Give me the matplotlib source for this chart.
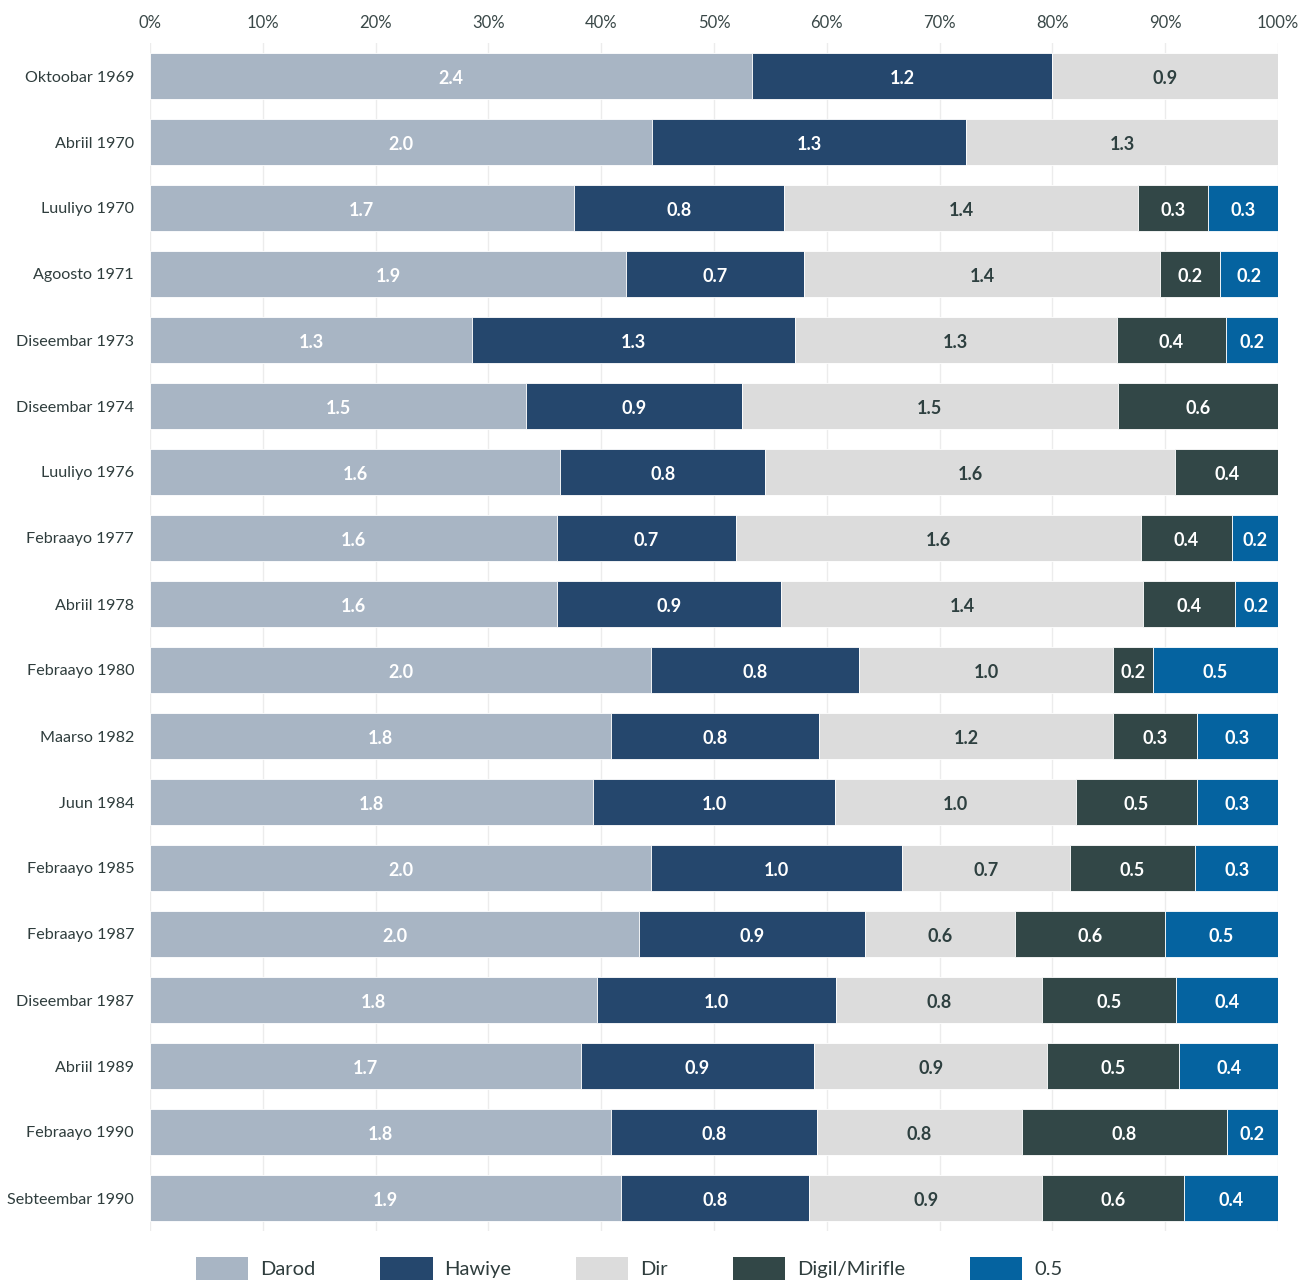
import numpy as np
import matplotlib
matplotlib.use("Agg")
from matplotlib import pyplot as plt
from matplotlib.patches import Patch

# survey dates, top to bottom
dates = ['Oktoobar 1969', 'Abriil 1970', 'Luuliyo 1970', 'Agoosto 1971', 'Diseembar 1973',
         'Diseembar 1974', 'Luuliyo 1976', 'Febraayo 1977', 'Abriil 1978', 'Febraayo 1980',
         'Maarso 1982', 'Juun 1984', 'Febraayo 1985', 'Febraayo 1987', 'Diseembar 1987',
         'Abriil 1989', 'Febraayo 1990', 'Sebteembar 1990']

series_names = ['Darod', 'Hawiye', 'Dir', 'Digil/Mirifle', '0.5']

darod  = [2.40, 2.03, 1.69, 1.90, 1.30, 1.50, 1.60, 1.60, 1.60, 2.00, 1.82, 1.80, 2.00, 1.99, 1.80, 1.70, 1.80, 1.90]
hawiye = [1.20, 1.27, 0.84, 0.71, 1.30, 0.86, 0.80, 0.70, 0.88, 0.83, 0.82, 0.98, 1.00, 0.92, 0.96, 0.92, 0.80, 0.76]
dir_   = [0.90, 1.26, 1.41, 1.42, 1.30, 1.50, 1.60, 1.59, 1.42, 1.01, 1.16, 0.98, 0.67, 0.61, 0.83, 0.92, 0.80, 0.94]
digil  = [0.00, 0.00, 0.28, 0.24, 0.44, 0.64, 0.40, 0.36, 0.36, 0.16, 0.33, 0.49, 0.50, 0.61, 0.54, 0.52, 0.80, 0.57]
other  = [0.00, 0.00, 0.28, 0.23, 0.21, 0.00, 0.00, 0.18, 0.17, 0.50, 0.32, 0.33, 0.33, 0.46, 0.41, 0.39, 0.20, 0.38]

colors = ['#a8b5c4', '#25476d', '#dcdcdc', '#324747', '#0563a0']
label_colors = ['white', 'white', '#2e4040', 'white', 'white']

data = np.array([darod, hawiye, dir_, digil, other])
share = data / data.sum(axis=0) * 100

fig = plt.figure(figsize=(13.16, 12.86), dpi=100)
ax = fig.add_axes([150/1316, 1 - 1231/1286, 1128/1316, (1231 - 43)/1286])

y = np.arange(len(dates))
left = np.zeros(len(dates))
for k in range(5):
    ax.barh(y, share[k], left=left, height=0.7, color=colors[k],
            edgecolor='white', linewidth=0.6, zorder=2)
    for i in range(len(dates)):
        if data[k, i] > 0:
            ax.text(left[i] + share[k, i]/2, y[i] + 0.02, '%.1f' % data[k, i],
                    ha='center', va='center_baseline', color=label_colors[k],
                    fontsize=13, fontweight='bold', family='Lato', zorder=3)
    left = left + share[k]

ax.set_xlim(0, 100)
ax.set_ylim(len(dates) - 0.5, -0.5)
ax.set_xticks(np.arange(0, 101, 10))
ax.set_xticklabels(['%d%%' % v for v in range(0, 101, 10)])
ax.xaxis.tick_top()
ax.set_yticks(y)
ax.set_yticklabels(dates)
ax.tick_params(axis='x', length=0, pad=9, labelsize=12, labelcolor='#3a4848')
ax.tick_params(axis='y', length=0, pad=11.5, labelsize=11.6, labelcolor='#2f3d3d')
for t in ax.get_xticklabels() + ax.get_yticklabels():
    t.set_family('Lato')
ax.grid(axis='x', color='#ececec', linewidth=1, zorder=0)
ax.set_axisbelow(True)
for s in ax.spines.values():
    s.set_visible(False)

handles = [Patch(facecolor=c, edgecolor='none') for c in colors]
fig.legend(handles, series_names, loc='upper left',
           bbox_to_anchor=(196/1316, 1 - 1257/1286), ncol=5, frameon=False,
           borderpad=0, borderaxespad=0, handlelength=2.6, handleheight=1.4,
           handletextpad=0.6, columnspacing=3.2,
           prop={'family': 'Lato', 'size': 14.5})
for t in fig.legends[0].get_texts():
    t.set_color('#2f3d3d')

plt.savefig('out.png', dpi=100)
